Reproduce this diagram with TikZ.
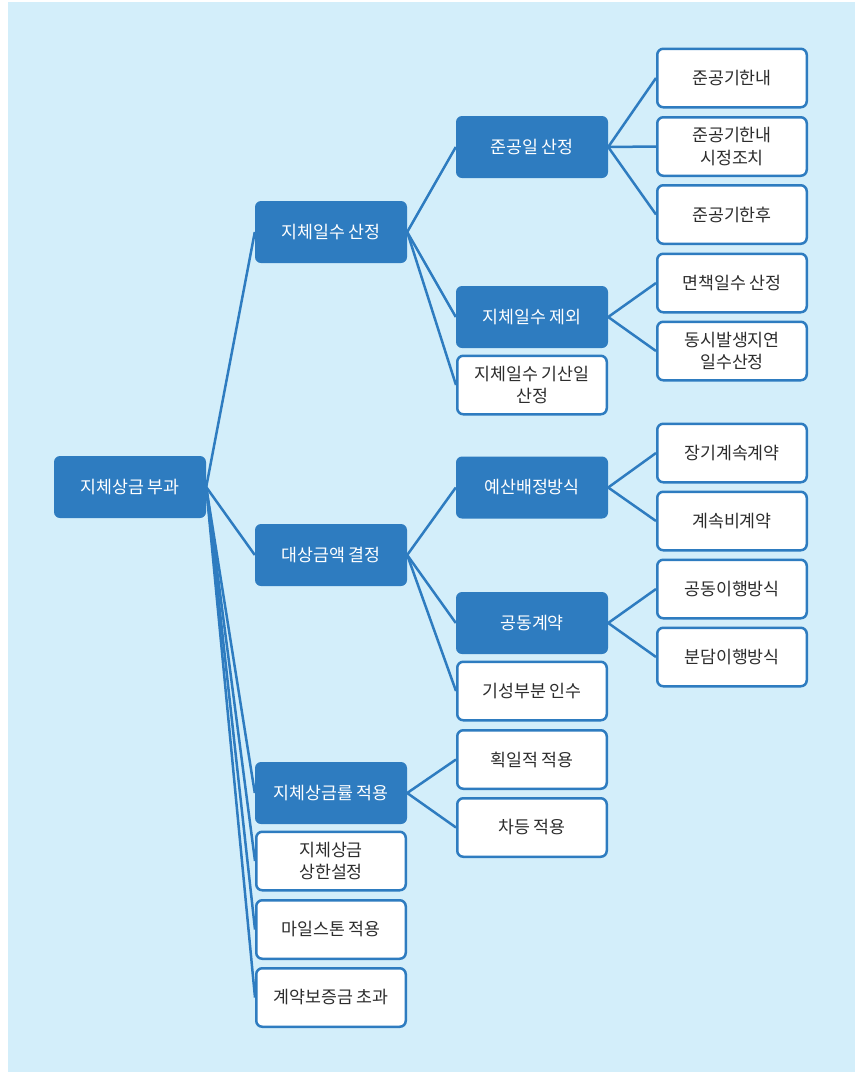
\documentclass[tikz,border=0pt]{standalone}
\usepackage{fontspec}
\newfontfamily\kor{Noto Sans CJK KR}
\begin{document}
\begin{tikzpicture}[x=1pt, y=-1pt,
  box/.style={rounded corners=6pt, align=center, inner sep=0pt,
    font=\kor\fontsize{17.3}{22.5}\selectfont},
  dark/.style={box, fill=MyBlue, text=white, minimum width=152pt, minimum height=62pt},
  light/.style={box, draw=MyBlue, line width=2.5pt, fill=white, text=MyText,
    minimum width=149.5pt, minimum height=58.5pt},
  link/.style={draw=MyBlue, line width=2.5pt}]
\definecolor{MyBack}{RGB}{211, 238, 250}
\definecolor{MyBlue}{RGB}{46, 124, 192}
\definecolor{MyText}{RGB}{45, 45, 45}
\useasboundingbox (0,0) rectangle (855,1072);
\fill[white] (0,0) rectangle (855,1072);
\fill[MyBack] (8,2) rectangle (855,1072);
% root
\node[dark] (root) at (130,487) {지체상금 부과};
% first level
\node[dark] (days) at (331,232) {지체일수 산정};
\node[dark] (amount) at (331,555) {대상금액 결정};
\node[dark] (rate) at (331,793) {지체상금률 적용};
\node[light] (cap) at (331,861) {지체상금\\상한설정};
\node[light] (mile) at (331,929.5) {마일스톤 적용};
\node[light] (bond) at (331,997.5) {계약보증금 초과};
% second level
\node[dark] (finish) at (532,147) {준공일 산정};
\node[dark] (except) at (532,317) {지체일수 제외};
\node[light] (start) at (532,385) {지체일수 기산일\\산정};
\node[dark] (budget) at (532,487.5) {예산배정방식};
\node[dark] (joint) at (532,623) {공동계약};
\node[light] (part) at (532,691) {기성부분 인수};
\node[light] (flat) at (532,759.5) {획일적 적용};
\node[light] (diff) at (532,827.5) {차등 적용};
% third level
\node[light] (f1) at (732,78) {준공기한내};
\node[light] (f2) at (732,146.5) {준공기한내\\시정조치};
\node[light] (f3) at (732,214.5) {준공기한후};
\node[light] (e1) at (732,283) {면책일수 산정};
\node[light] (e2) at (732,351) {동시발생지연\\일수산정};
\node[light] (b1) at (732,453) {장기계속계약};
\node[light] (b2) at (732,521) {계속비계약};
\node[light] (j1) at (732,589) {공동이행방식};
\node[light] (j2) at (732,657) {분담이행방식};
% links
\foreach \a/\b in {root/days, root/amount, root/rate, root/cap, root/mile, root/bond,
  days/finish, days/except, days/start,
  amount/budget, amount/joint, amount/part,
  rate/flat, rate/diff,
  finish/f1, finish/f2, finish/f3,
  except/e1, except/e2,
  budget/b1, budget/b2,
  joint/j1, joint/j2}{
\draw[link] (\a.east) -- (\b.west);
}
\end{tikzpicture}
\end{document}
